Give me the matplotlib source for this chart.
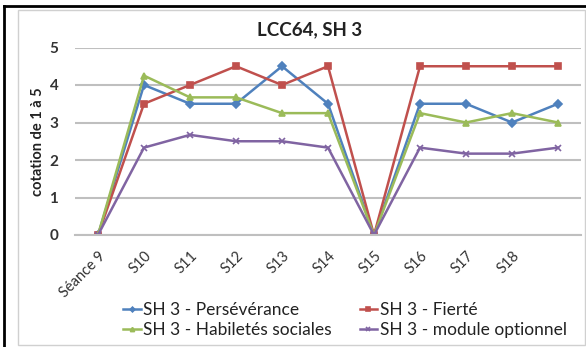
import matplotlib
matplotlib.use("Agg")
import matplotlib.pyplot as plt
from matplotlib.patches import Rectangle
from matplotlib.lines import Line2D

categories = ["Séance 9", "S10", "S11", "S12", "S13", "S14", "S15", "S16", "S17", "S18", ""]
perseverance = [0, 4.0, 3.5, 3.5, 4.5, 3.5, 0, 3.5, 3.5, 3.0, 3.5]
fierte = [0, 3.5, 4.0, 4.5, 4.0, 4.5, 0, 4.5, 4.5, 4.5, 4.5]
habiletes = [0, 4.25, 3.67, 3.67, 3.25, 3.25, 0, 3.25, 3.0, 3.25, 3.0]
module = [0, 2.33, 2.67, 2.5, 2.5, 2.33, 0, 2.33, 2.17, 2.17, 2.33]
series_names = ["SH 3 - Persévérance", "SH 3 - Fierté",
                "SH 3 - Habiletés sociales", "SH 3 - module optionnel"]
yticks = [0, 1, 2, 3, 4, 5]

plt.rcParams['font.family'] = ['Lato', 'DejaVu Sans']

fig = plt.figure(figsize=(5.86, 3.47), dpi=100)
W, H = 586, 347

# frame decorations
fig.patches.append(Rectangle((18 / W, 2 / H), (W - 19) / W, (H - 12) / H,
                             transform=fig.transFigure, fill=False,
                             edgecolor="#d0d0d0", linewidth=1.0))
fig.lines.append(Line2D([4 / W, 4 / W], [0, 1 - 6 / H], transform=fig.transFigure,
                        color="black", linewidth=2))
fig.lines.append(Line2D([4 / W, 1], [1 - 6 / H, 1 - 6 / H], transform=fig.transFigure,
                        color="black", linewidth=2))

ax = fig.add_axes([75 / W, 1 - 235 / H, (581 - 75) / W, (235 - 47.5) / H])
x = list(range(len(categories)))

colors = ["#4F81BD", "#C0504D", "#9BBB59", "#8064A2"]
markers = ["D", "s", "^", "x"]
msizes = [4, 5, 5, 4]
lines = []
for vals, c, m, ms, name in zip([perseverance, fierte, habiletes, module],
                                colors, markers, msizes, series_names):
    ln, = ax.plot(x, vals, color=c, marker=m, markersize=ms, linewidth=1.8,
                  label=name, markeredgewidth=1.2)
    lines.append(ln)

ax.set_xlim(-0.5, len(categories) - 0.5)
ax.set_ylim(0, 5)
ax.set_yticks(yticks)
ax.set_yticklabels([str(v) for v in yticks], fontsize=11, fontweight="bold", color="#333333")
ax.set_xticks(x)
ax.set_xticklabels(categories, rotation=45, ha="right", rotation_mode="anchor",
                   fontsize=10.5, color="#333333")
ax.tick_params(axis="both", length=0, pad=12)
ax.tick_params(axis="x", pad=10)
ax.grid(axis="y", color="#bfbfbf", linewidth=1.5)
ax.set_axisbelow(True)
for s in ["top", "right", "left"]:
    ax.spines[s].set_visible(False)
ax.spines["bottom"].set_color("#bfbfbf")
ax.spines["bottom"].set_linewidth(1.5)

ax.set_ylabel("cotation de 1 à 5", fontsize=10.5, fontweight="bold", color="#222222", labelpad=3)
fig.text(310 / W, 1 - 30 / H, "LCC64, SH 3", ha="center", va="center",
         fontsize=13.5, fontweight="bold", color="#222222")

order = [0, 2, 1, 3]
leg = fig.legend([lines[i] for i in order], [series_names[i] for i in order],
                 loc="center", bbox_to_anchor=(345 / W, 1 - 320 / H),
                 ncol=2, frameon=False, fontsize=12.5, handlelength=1.0,
                 handletextpad=0.15, columnspacing=1.6, labelspacing=0.2,
                 markerscale=0.6, borderpad=0.1)
for t in leg.get_texts():
    t.set_color("#222222")

fig.savefig("out.png", dpi=100, facecolor="white")
